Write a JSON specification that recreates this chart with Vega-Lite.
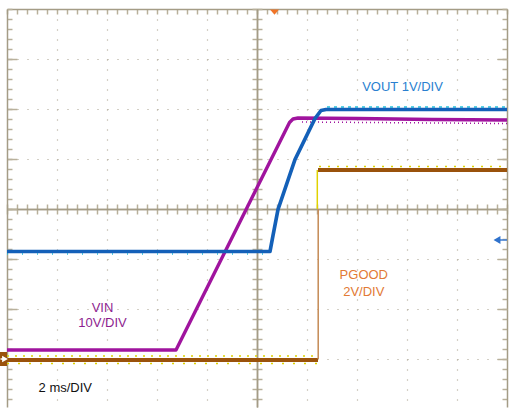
{
  "$schema": "https://vega.github.io/schema/vega-lite/v6.json",
  "width": 500,
  "height": 398,
  "autosize": "none",
  "padding": {"left": 7, "top": 9, "right": 2, "bottom": 1},
  "background": "white",
  "config": {
    "view": {"stroke": null},
    "axis": {"labels": false, "title": null, "domainColor": "#a49c86", "tickColor": "#b8b09b", "domainWidth": 1.5, "tickWidth": 1.5, "grid": false},
    "text": {"font": "Liberation Sans"}
  },
  "datasets": {
    "traces": [
      {"id": "vin", "s": "VIN", "x": 0, "y": -2.82},
      {"id": "vin", "s": "VIN", "x": 3.38, "y": -2.82},
      {"id": "vin", "s": "VIN", "x": 5.65, "y": 1.73},
      {"id": "vin", "s": "VIN", "x": 5.72, "y": 1.8},
      {"id": "vin", "s": "VIN", "x": 5.82, "y": 1.82},
      {"id": "vin", "s": "VIN", "x": 7, "y": 1.81},
      {"id": "vin", "s": "VIN", "x": 8.5, "y": 1.79},
      {"id": "vin", "s": "VIN", "x": 10, "y": 1.78},
      {"id": "vout", "s": "VOUT", "x": 0, "y": -0.85},
      {"id": "vout", "s": "VOUT", "x": 5.26, "y": -0.85},
      {"id": "vout", "s": "VOUT", "x": 5.32, "y": -0.53},
      {"id": "vout", "s": "VOUT", "x": 5.42, "y": -0.01},
      {"id": "vout", "s": "VOUT", "x": 5.76, "y": 0.99},
      {"id": "vout", "s": "VOUT", "x": 6.16, "y": 1.81},
      {"id": "vout", "s": "VOUT", "x": 6.28, "y": 1.97},
      {"id": "vout", "s": "VOUT", "x": 6.38, "y": 1.99},
      {"id": "vout", "s": "VOUT", "x": 10, "y": 1.99},
      {"id": "pg_lo", "s": "PGOOD", "x": 0, "y": -3.02},
      {"id": "pg_lo", "s": "PGOOD", "x": 6.22, "y": -3.02},
      {"id": "pg_hi", "s": "PGOOD", "x": 6.22, "y": 0.78},
      {"id": "pg_hi", "s": "PGOOD", "x": 10, "y": 0.78}
    ],
    "noise": [
      {"id": "vout_n", "s": "VOUTn", "x": 6.4, "y": 2.04},
      {"id": "vout_n", "s": "VOUTn", "x": 10, "y": 2.04},
      {"id": "vout_n2", "s": "VOUTn", "x": 0, "y": -0.9},
      {"id": "vout_n2", "s": "VOUTn", "x": 5.2, "y": -0.9},
      {"id": "pg_n1", "s": "PGOODn", "x": 0, "y": -2.94},
      {"id": "pg_n1", "s": "PGOODn", "x": 6.2, "y": -2.94},
      {"id": "pg_n2", "s": "PGOODn", "x": 0, "y": -3.09},
      {"id": "pg_n2", "s": "PGOODn", "x": 6.2, "y": -3.09},
      {"id": "pg_n3", "s": "PGOODn", "x": 6.24, "y": 0.85},
      {"id": "pg_n3", "s": "PGOODn", "x": 10, "y": 0.85},
      {"id": "vin_n", "s": "VINn", "x": 5.9, "y": 1.74},
      {"id": "vin_n", "s": "VINn", "x": 10, "y": 1.71}
    ],
    "labels": [
      {"t": "VOUT 1V/DIV", "x": 7.91, "y": 2.36, "k": "vout"},
      {"t": "VIN", "x": 1.91, "y": -2.054, "k": "vin"},
      {"t": "10V/DIV", "x": 1.91, "y": -2.366, "k": "vin"},
      {"t": "PGOOD", "x": 7.136, "y": -1.4, "k": "pg"},
      {"t": "2V/DIV", "x": 7.136, "y": -1.734, "k": "pg"},
      {"t": "2 ms/DIV", "x": 1.166, "y": -3.654, "k": "time"}
    ],
    "rules": [
      {"k": "edge_y", "x": 6.206, "x2": 6.206, "y": 0.78, "y2": 0},
      {"k": "edge_t", "x": 6.224, "x2": 6.224, "y": 0, "y2": -3.0},
      {"k": "vref", "x": 9.82, "x2": 10, "y": -0.62, "y2": -0.62},
      {"k": "pgref", "x": -0.13, "x2": -0.05, "y": -3.0, "y2": -3.0}
    ],
    "marks": [
      {"k": "trig", "x": 5.35, "y": 3.94},
      {"k": "vref", "x": 9.8, "y": -0.62},
      {"k": "pgref", "x": -0.04, "y": -3.0}
    ],
    "boxes": [
      {"k": "pgbox", "x": -0.14, "x2": 0, "y": -2.86, "y2": -3.14}
    ]
  },
  "resolve": {
    "axis": {"x": "independent", "y": "independent"},
    "scale": {"color": "independent", "strokeWidth": "independent", "strokeDash": "independent", "shape": "independent", "size": "independent"}
  },
  "layer": [
    {
      "data": {"name": "boxes"},
      "mark": {"type": "rect"},
      "encoding": {
        "x": {"field": "x", "type": "quantitative", "scale": {"domain": [0, 10], "nice": false, "zero": false}, "axis": null},
        "x2": {"field": "x2"},
        "y": {"field": "y", "type": "quantitative", "scale": {"domain": [-3.96, 4], "nice": false, "zero": false},
              "axis": {"orient": "right", "offset": -250, "values": [-3.8,-3.6,-3.4,-3.2,-3,-2.8,-2.6,-2.4,-2.2,-2,-1.8,-1.6,-1.4,-1.2,-1,-0.8,-0.6,-0.4,-0.2,0,0.2,0.4,0.6,0.8,1,1.2,1.4,1.6,1.8,2,2.2,2.4,2.6,2.8,3,3.2,3.4,3.6,3.8,4], "tickSize": 5, "domain": true}},
        "y2": {"field": "y2"},
        "color": {"value": "#9a520c"}
      }
    },
    {
      "data": {"name": "noise"},
      "mark": {"type": "line", "strokeCap": "butt"},
      "encoding": {
        "x": {"field": "x", "type": "quantitative", "axis": {"orient": "bottom", "values": [1,2,3,4,5,6,7,8,9], "grid": true, "gridDash": [1, 9], "gridColor": "#aaa28e", "gridWidth": 1.2, "gridOpacity": 1, "domain": false, "ticks": false, "labels": false}},
        "y": {"field": "y", "type": "quantitative", "axis": {"orient": "left", "values": [-3,-2,-1,0,1,2,3], "grid": true, "gridDash": [1, 9], "gridColor": "#aaa28e", "gridWidth": 1.2, "gridOpacity": 1, "domain": false, "ticks": true, "tickSize": -10, "labels": false}},
        "detail": {"field": "id"},
        "color": {"field": "s", "type": "nominal", "legend": null, "scale": {"domain": ["VOUTn", "PGOODn", "VINn"], "range": ["#22c2dc", "#dcd200", "#a0149e"]}},
        "strokeWidth": {"field": "s", "type": "nominal", "legend": null, "scale": {"domain": ["VOUTn", "PGOODn", "VINn"], "range": [1.5, 1.5, 2]}},
        "strokeDash": {"field": "id", "type": "nominal", "legend": null, "scale": {"domain": ["vout_n", "vout_n2", "pg_n1", "pg_n2", "pg_n3", "vin_n"], "range": [[3, 4], [1, 14], [2, 6], [2, 9], [2, 7], [1, 3]]}}
      }
    },
    {
      "data": {"name": "traces"},
      "mark": {"type": "line", "strokeJoin": "round"},
      "encoding": {
        "x": {"field": "x", "type": "quantitative", "axis": {"orient": "top", "values": [0,0.2,0.4,0.6,0.8,1,1.2,1.4,1.6,1.8,2,2.2,2.4,2.6,2.8,3,3.2,3.4,3.6,3.8,4,4.2,4.4,4.6,4.8,5,5.2,5.4,5.6,5.8,6,6.2,6.4,6.6,6.8,7,7.2,7.4,7.6,7.8,8,8.2,8.4,8.6,8.8,9,9.2,9.4,9.6,9.8,10], "tickSize": -5, "domain": true}},
        "y": {"field": "y", "type": "quantitative", "axis": {"orient": "left", "values": [-3.8,-3.6,-3.4,-3.2,-3,-2.8,-2.6,-2.4,-2.2,-2,-1.8,-1.6,-1.4,-1.2,-1,-0.8,-0.6,-0.4,-0.2,0,0.2,0.4,0.6,0.8,1,1.2,1.4,1.6,1.8,2,2.2,2.4,2.6,2.8,3,3.2,3.4,3.6,3.8,4], "tickSize": -5, "domain": true}},
        "detail": {"field": "id"},
        "color": {"field": "s", "type": "nominal", "legend": null, "scale": {"domain": ["VIN", "VOUT", "PGOOD"], "range": ["#a0149e", "#1460b8", "#9a520c"]}},
        "strokeWidth": {"field": "s", "type": "nominal", "legend": null, "scale": {"domain": ["VIN", "VOUT", "PGOOD"], "range": [3.4, 4, 4]}}
      }
    },
    {
      "data": {"name": "rules"},
      "mark": {"type": "rule"},
      "encoding": {
        "x": {"field": "x", "type": "quantitative", "axis": {"orient": "top", "offset": -200, "values": [0,0.2,0.4,0.6,0.8,1,1.2,1.4,1.6,1.8,2,2.2,2.4,2.6,2.8,3,3.2,3.4,3.6,3.8,4,4.2,4.4,4.6,4.8,5,5.2,5.4,5.6,5.8,6,6.2,6.4,6.6,6.8,7,7.2,7.4,7.6,7.8,8,8.2,8.4,8.6,8.8,9,9.2,9.4,9.6,9.8,10], "tickSize": 5, "domain": true}},
        "x2": {"field": "x2"},
        "y": {"field": "y", "type": "quantitative", "axis": {"orient": "right", "values": [-3.8,-3.6,-3.4,-3.2,-3,-2.8,-2.6,-2.4,-2.2,-2,-1.8,-1.6,-1.4,-1.2,-1,-0.8,-0.6,-0.4,-0.2,0,0.2,0.4,0.6,0.8,1,1.2,1.4,1.6,1.8,2,2.2,2.4,2.6,2.8,3,3.2,3.4,3.6,3.8,4], "tickSize": -5, "domain": true}},
        "y2": {"field": "y2"},
        "color": {"field": "k", "type": "nominal", "legend": null, "scale": {"domain": ["edge_y", "edge_t", "vref", "pgref"], "range": ["#e0d200", "#c48a55", "#3a7ad0", "#ffffff"]}},
        "strokeWidth": {"field": "k", "type": "nominal", "legend": null, "scale": {"domain": ["edge_y", "edge_t", "vref", "pgref"], "range": [1.5, 1.5, 2, 1.5]}}
      }
    },
    {
      "data": {"name": "marks"},
      "mark": {"type": "point", "filled": true, "opacity": 1},
      "encoding": {
        "x": {"field": "x", "type": "quantitative", "axis": {"orient": "bottom", "offset": -198, "values": [0,0.2,0.4,0.6,0.8,1,1.2,1.4,1.6,1.8,2,2.2,2.4,2.6,2.8,3,3.2,3.4,3.6,3.8,4,4.2,4.4,4.6,4.8,5,5.2,5.4,5.6,5.8,6,6.2,6.4,6.6,6.8,7,7.2,7.4,7.6,7.8,8,8.2,8.4,8.6,8.8,9,9.2,9.4,9.6,9.8,10], "tickSize": 5, "domain": true}},
        "y": {"field": "y", "type": "quantitative", "axis": {"orient": "left", "offset": -250, "values": [-3.8,-3.6,-3.4,-3.2,-3,-2.8,-2.6,-2.4,-2.2,-2,-1.8,-1.6,-1.4,-1.2,-1,-0.8,-0.6,-0.4,-0.2,0,0.2,0.4,0.6,0.8,1,1.2,1.4,1.6,1.8,2,2.2,2.4,2.6,2.8,3,3.2,3.4,3.6,3.8,4], "tickSize": 5, "domain": true}},
        "shape": {"field": "k", "type": "nominal", "legend": null, "scale": {"domain": ["trig", "vref", "pgref"], "range": ["M-1,-0.55L1,-0.55L0,0.6Z", "triangle-left", "triangle-right"]}},
        "size": {"field": "k", "type": "nominal", "legend": null, "scale": {"domain": ["trig", "vref", "pgref"], "range": [81, 45, 14]}},
        "color": {"field": "k", "type": "nominal", "legend": null, "scale": {"domain": ["trig", "vref", "pgref"], "range": ["#f07428", "#2f72cc", "#ffffff"]}}
      }
    },
    {
      "data": {"name": "labels"},
      "mark": {"type": "text", "fontSize": 13, "align": "center", "baseline": "alphabetic"},
      "encoding": {
        "x": {"field": "x", "type": "quantitative", "axis": null},
        "y": {"field": "y", "type": "quantitative", "axis": {"orient": "right", "values": [-3,-2,-1,0,1,2,3], "tickSize": -10, "domain": false}},
        "text": {"field": "t"},
        "color": {"field": "k", "type": "nominal", "legend": null, "scale": {"domain": ["vout", "vin", "pg", "time"], "range": ["#2a7fd0", "#8e1f90", "#e27a35", "#111111"]}}
      }
    }
  ]
}
